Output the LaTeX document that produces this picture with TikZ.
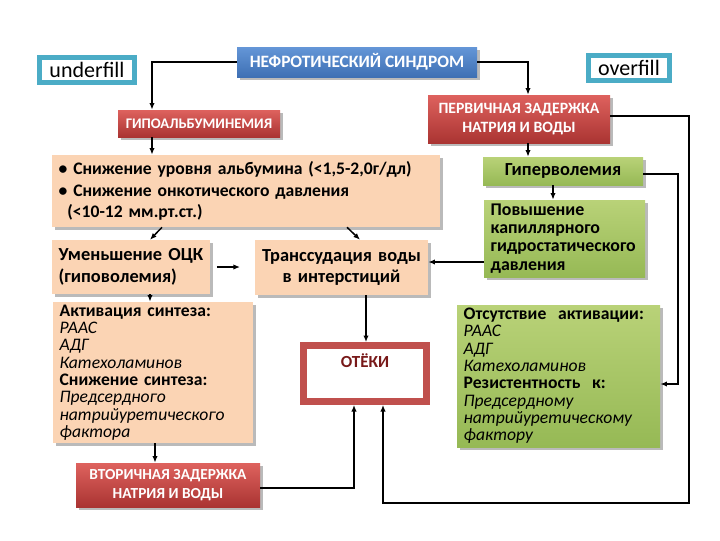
\documentclass[tikz,border=0pt]{standalone}
\usepackage{fontspec}
\setmainfont{Carlito}
\usetikzlibrary{arrows.meta,shadows}
\definecolor{beige}{HTML}{FBD4B4}
\definecolor{redtop}{RGB}{222,98,94}
\definecolor{redbot}{RGB}{170,52,50}
\definecolor{bluetop}{RGB}{100,150,215}
\definecolor{bluebot}{RGB}{62,112,180}
\definecolor{greentop}{RGB}{185,210,120}
\definecolor{greenbot}{RGB}{150,185,85}
\definecolor{teal}{HTML}{4BACC6}
\definecolor{oteborder}{HTML}{C0504D}
\definecolor{otetext}{RGB}{120,25,25}
\begin{document}
\begin{tikzpicture}[x=0.75pt,y=-0.75pt,
  shd/.style={drop shadow={shadow xshift=2pt,shadow yshift=-2pt,opacity=0.45,fill=black!60}},
  redbox/.style={rectangle,shd,top color=redtop,bottom color=redbot,text=white,align=center,inner sep=0pt,font=\bfseries\fontsize{11.5}{14.5}\selectfont},
  beigebox/.style={rectangle,shd,fill=beige,inner xsep=5pt,inner ysep=0pt,font=\bfseries\fontsize{13.8}{16}\selectfont},
  greenbox/.style={rectangle,shd,top color=greentop,bottom color=greenbot,inner xsep=5pt,inner ysep=0pt,font=\bfseries\fontsize{13.4}{13.6}\selectfont},
  tealbox/.style={rectangle,draw=teal,line width=3.75pt,fill=white,inner sep=0pt,font=\fontsize{16.5}{18}\selectfont},
  conn/.style={line width=1.1pt,-{Latex[length=5pt,width=4pt]}},
  line/.style={line width=1.1pt}]
\useasboundingbox[fill=white] (0,0) rectangle (720,540);

\node[tealbox,minimum width=71.25pt,minimum height=18.75pt] (under) at (87,70) {underfill};
\node[tealbox,minimum width=60.75pt,minimum height=18.75pt] (over) at (629,68) {overfill};

\node[rectangle,shd,top color=bluetop,bottom color=bluebot,text=white,inner sep=0pt,
  minimum width=180pt,minimum height=22.5pt,font=\bfseries\fontsize{13}{14}\selectfont] (neph) at (357,62) {НЕФРОТИЧЕСКИЙ СИНДРОМ};

\node[redbox,minimum width=121.5pt,minimum height=20.25pt,font=\bfseries\fontsize{11}{13}\selectfont] (hypo) at (199,123.5) {ГИПОАЛЬБУМИНЕМИЯ};
\node[redbox,minimum width=136.5pt,minimum height=36pt,font=\bfseries\fontsize{11.8}{14.5}\selectfont] (prim) at (519,119) {ПЕРВИЧНАЯ ЗАДЕРЖКА\\НАТРИЯ И ВОДЫ};

\node[beigebox,text width=281pt,minimum height=54pt,align=left,font=\bfseries\fontsize{13.2}{16}\selectfont] (b1) at (246,191)
  {\textbullet\ Снижение уровня альбумина (<1,5-2,0г/дл)\\
   \textbullet\ Снижение онкотического давления\\
   \hspace*{0.5em}(<10-12 мм.рт.ст.)};

\node[greenbox,text width=110pt,minimum height=21pt,align=center,font=\bfseries\fontsize{13.8}{14}\selectfont] (hyper) at (563,171) {Гиперволемия};
\node[greenbox,text width=110.75pt,minimum height=57.75pt,align=left] (pov) at (564.5,238.5)
  {Повышение\\капиллярного\\гидростатического\\давления};

\node[beigebox,text width=108.5pt,minimum height=40.5pt,align=left] (umen) at (131,267)
  {Уменьшение ОЦК\\(гиповолемия)};
\node[beigebox,text width=119.75pt,minimum height=41.25pt,align=center] (trans) at (341.5,267.5)
  {Транссудация воды\\в интерстиций};

\node[beigebox,text width=140pt,minimum height=105.75pt,align=left,font=\fontsize{13.2}{13}\selectfont] (akt) at (153,372.5)
  {\textbf{Активация синтеза:}\\\textit{РААС}\\\textit{АДГ}\\\textit{Катехоламинов}\\\textbf{Снижение синтеза:}\\\textit{Предсердного}\\\textit{натрийуретического}\\\textit{фактора}};

\node[rectangle,draw=oteborder,line width=5pt,fill=white,minimum width=92.25pt,minimum height=42pt,inner sep=0pt] (otek) at (365,373.5) {};
\node[text=otetext,font=\bfseries\fontsize{12.7}{14}\selectfont] (otektxt) at (365,361) {ОТЁКИ};

\node[greenbox,text width=142.25pt,minimum height=106.5pt,align=left,font=\fontsize{13.2}{13}\selectfont] (ots) at (558.5,376)
  {\textbf{Отсутствие\ \ активации:}\\\textit{РААС}\\\textit{АДГ}\\\textit{Катехоламинов}\\\textbf{Резистентность\ \ к:}\\\textit{Предсердному}\\\textit{натрийуретическому}\\\textit{фактору}};

\node[redbox,minimum width=138pt,minimum height=33pt] (vtor) at (168,485) {ВТОРИЧНАЯ ЗАДЕРЖКА\\НАТРИЯ И ВОДЫ};

% connectors
\draw[conn] (neph.west) -| (hypo.north -| 152,0);
\draw[conn] (neph.east) -| (prim.north -| 528,0);
\draw[conn] (hypo.south -| 152,0) -- (b1.north -| 152,0);
\draw[conn] (prim.south -| 528,0) -- (hyper.north -| 528,0);
\draw[conn] (hyper.south -| 553,0) -- (pov.north -| 553,0);
\draw[conn] (prim.east |- 0,116) -- (689,116) -- (689,503) -| (otek.south -| 383,0);
\draw[conn] (hyper.east |- 0,174) -- (678,174) |- (ots.east |- 0,384);
\draw[conn] (pov.west |- 0,262) -- (trans.east |- 0,262);
\draw[conn] (b1.south -| 162,0) -- (umen.north -| 150,0);
\draw[conn] (b1.south -| 347,0) -- (trans.north -| 360,0);
\draw[conn,shorten <=5pt,shorten >=11pt] (umen.east |- 0,267) -- (trans.west |- 0,267);
\draw[conn] (umen.south -| 150,0) -- (akt.north -| 150,0);
\draw[conn] (trans.south -| 366,0) -- (otek.north -| 366,0);
\draw[conn] (akt.south -| 155,0) -- (vtor.north -| 155,0);
\draw[conn] (vtor.east |- 0,488) -| (otek.south -| 354,0);
\end{tikzpicture}
\end{document}
